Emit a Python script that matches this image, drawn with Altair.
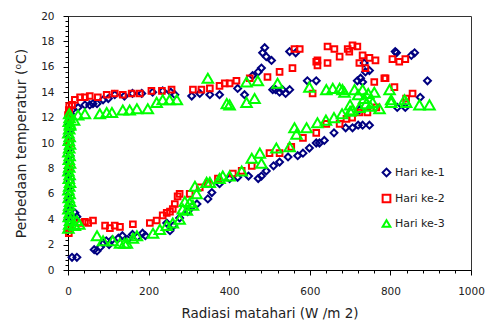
import altair as alt
import pandas as pd

series_names = ["Hari ke-1", "Hari ke-2", "Hari ke-3"]
series_colors = ["#000080", "#FF0000", "#00FF00"]
series_shapes = ["diamond", "square", "triangle-up"]

# Hari ke-1 (navy diamonds)
x1 = [2, 4, 3, 5, 2, 4, 3, 5, 2, 4, 3, 5, 2, 4, 3, 5, 2, 4, 6,
      17, 22, 10, 22,
      65, 72, 80, 88, 95, 102, 110, 125, 135, 148, 160, 172, 185, 192,
      245, 253, 262, 277, 297, 308, 320, 347, 357, 376, 401, 421, 448, 472, 480,
      492, 510, 525, 546, 570, 583, 599, 616, 624, 636, 660, 689, 706, 720, 731, 748,
      10, 25, 42, 54, 62, 72, 87, 100, 116, 140, 160, 183, 210, 235, 255, 265,
      307, 327, 352, 376, 421, 438, 458, 472, 480, 483, 488, 492, 505, 508, 515,
      525, 532, 540, 550, 550, 565, 594, 616, 718, 726, 731, 738, 748, 735, 723,
      812, 815, 852, 860, 817, 837, 874, 892]
y1 = [3.8, 4.2, 4.6, 5.0, 5.5, 6.0, 6.5, 7.0, 7.5, 8.0, 8.5, 9.0, 9.5, 10.0, 10.5, 11.0, 11.5, 12.0, 12.3,
      4.5, 4.2, 1.0, 1.0,
      1.6, 1.5, 1.8, 2.1, 2.3, 2.0, 2.4, 2.5, 2.7, 2.4, 2.8, 2.6, 2.9, 2.7,
      3.7, 3.1, 3.5, 4.1, 4.6, 5.0, 5.2, 5.6, 6.1, 6.8, 7.2, 7.3, 7.4, 7.2, 7.4,
      7.8, 8.2, 8.5, 8.9, 9.0, 9.2, 9.6, 10.0, 10.0, 10.2, 10.8, 11.2, 11.2, 11.4, 11.4, 11.4,
      12.6, 12.8, 13.0, 13.0, 13.1, 13.1, 13.4, 13.5, 13.8, 13.7, 13.9, 13.9, 14.0, 14.1, 14.0, 13.8,
      13.7, 13.9, 13.8, 13.8, 14.3, 13.8, 15.3, 15.6, 15.9, 17.1, 17.5, 16.8, 16.5, 14.2, 14.2,
      14.0, 14.2, 13.9, 14.2, 17.2, 17.1, 14.9, 14.9, 14.9, 15.1, 14.8, 15.6, 15.7, 16.3, 12.6,
      17.2, 17.1, 16.9, 17.1, 12.8, 12.8, 13.6, 14.9]

# Hari ke-2 (red squares)
x2 = [2, 3, 2, 3, 2, 3, 2, 3,
      30, 42, 50, 62, 92, 104, 116, 129, 161, 203, 220, 235, 245, 253, 260, 265, 272, 277,
      302, 327, 347, 372, 409, 431, 456, 500, 525, 554, 583, 616, 641, 674, 691, 705, 723,
      743, 765, 760, 785, 810, 839, 855,
      0, 10, 17, 30, 42, 54, 74, 96, 116, 136, 158, 178, 207, 233, 257, 310, 331, 352,
      376, 389, 401, 418, 451, 495, 525, 557, 562, 575, 607, 616, 619, 619, 644, 644,
      661, 674, 694, 698, 706, 718, 723, 731, 738, 748, 763, 805, 822, 837, 788]
y2 = [2.9, 3.2, 8.0, 10.0, 12.0, 12.3, 12.6, 12.9,
      3.7, 3.8, 3.7, 3.9, 3.5, 3.3, 3.5, 3.4, 3.6, 3.7, 3.9, 4.3, 4.5, 4.6, 4.8, 5.2, 5.8, 6.0,
      6.0, 6.5, 6.8, 7.2, 7.6, 7.8, 8.2, 9.2, 9.2, 9.7, 10.4, 10.8, 11.5, 11.5, 11.9, 12.0, 12.4,
      12.4, 12.8, 14.8, 15.1, 14.4, 13.5, 13.9,
      12.2, 13.0, 13.4, 13.6, 13.6, 13.7, 13.6, 13.8, 13.9, 13.8, 13.9, 13.9, 14.1, 14.1, 14.2, 14.2, 14.2, 14.3,
      14.5, 14.7, 14.7, 14.9, 15.1, 15.2, 15.6, 15.9, 17.4, 17.4, 13.9, 16.4, 16.1, 16.5, 16.3, 17.6,
      17.4, 16.8, 17.4, 17.2, 17.7, 17.6, 16.3, 16.9, 15.9, 16.7, 16.5, 16.6, 16.4, 16.6, 15.1]

# Hari ke-3 (green triangles)
x3 = [1, 3, 5, 2, 4, 1, 3, 5, 2, 4, 1, 3, 5, 2, 4, 1, 3, 5, 2, 4, 1, 3, 5, 2, 4, 1, 3, 5, 2, 4, 3,
      17, 22, 28, 72, 87, 111, 129, 140, 146, 161, 171, 211, 228, 245, 260, 277, 285, 290, 295,
      302, 310, 315, 319, 344, 352, 376, 384, 401, 431, 456, 476, 480, 517, 550, 562, 567, 592,
      619, 640, 660, 680, 700, 706, 723, 740, 756, 773, 802, 835, 839, 872, 897,
      5, 15, 25, 42, 79, 96, 109, 136, 153, 171, 198, 220, 235, 252, 270, 347, 394, 401,
      443, 443, 463, 471, 520, 599, 641, 657, 674, 681, 686, 700, 711, 720, 731, 735, 745,
      750, 760, 798, 802]
y3 = [3.3, 3.6, 3.9, 4.2, 4.5, 4.8, 5.1, 5.4, 5.7, 6.0, 6.3, 6.6, 6.9, 7.2, 7.5, 7.8, 8.1, 8.4, 8.7,
      9.0, 9.3, 9.6, 9.9, 10.2, 10.5, 10.8, 11.1, 11.4, 11.7, 12.0, 12.3,
      3.5, 3.9, 3.6, 2.7, 2.3, 2.3, 2.1, 2.1, 2.1, 2.5, 2.7, 2.9, 3.2, 3.5, 3.7, 4.0, 4.8, 5.4, 4.7,
      5.3, 5.1, 6.6, 6.0, 6.9, 6.9, 7.2, 7.4, 7.4, 7.8, 8.8, 9.2, 8.4, 9.6, 9.7, 11.2, 10.7, 11.2,
      11.6, 11.8, 12.0, 12.3, 12.5, 12.6, 12.8, 13.1, 13.2, 12.7, 13.4, 13.4, 13.2, 13.0, 13.0,
      11.5, 11.8, 12.2, 12.3, 12.3, 12.4, 12.4, 12.6, 12.6, 12.7, 12.7, 13.2, 13.4, 13.4, 13.4, 15.1, 13.1, 13.0,
      14.8, 13.2, 13.5, 14.9, 14.7, 14.4, 14.2, 14.3, 14.3, 14.2, 14.0, 13.0, 14.2, 13.8, 14.2, 13.5, 13.9,
      12.9, 14.0, 14.2, 13.2]

marker_sizes = [48, 32, 110]

rows = []
for name, xs, ys in zip(series_names, [x1, x2, x3], [y1, y2, y3]):
    for a, b in zip(xs, ys):
        rows.append({"rad": a, "dT": b, "series": name})
df = pd.DataFrame(rows)

x_tick_values = list(range(0, 1001, 40))
y_tick_values = [round(k * 0.4, 1) for k in range(51)]

FONT = "DejaVu Sans"
TXT = "#222222"

x_major = "datum.value % 200 === 0"
y_major = "abs(datum.value / 2 - round(datum.value / 2)) < 0.001"

x_enc = alt.X("rad:Q",
              scale=alt.Scale(domain=[0, 1000], nice=False, zero=False),
              axis=alt.Axis(title="Radiasi matahari (W /m 2)", values=x_tick_values,
                            labelExpr=f"{x_major} ? toString(round(datum.value)) : ''",
                            tickSize={"condition": {"test": x_major, "value": 5}, "value": 3},
                            labelOverlap=False, labelFlush=False, grid=False,
                            labelFont=FONT, labelFontSize=10.5, labelColor=TXT, labelPadding=11,
                            titleFont=FONT, titleFontSize=13.5, titleFontWeight="normal",
                            titleColor=TXT, titlePadding=10,
                            domainColor="#000000", tickColor="#000000"))
y_enc = alt.Y("dT:Q",
              scale=alt.Scale(domain=[0, 20], nice=False),
              axis=alt.Axis(title="Perbedaan temperatur (\u2070C)", values=y_tick_values,
                            labelExpr=f"{y_major} ? toString(round(datum.value)) : ''",
                            tickSize={"condition": {"test": y_major, "value": 5}, "value": 3},
                            labelOverlap=False, labelFlush=False, grid=False,
                            labelFont=FONT, labelFontSize=10.5, labelColor=TXT, labelPadding=9,
                            titleFont=FONT, titleFontSize=14, titleFontWeight="normal",
                            titleColor=TXT, titlePadding=12,
                            domainColor="#000000", tickColor="#000000"))
color_enc = alt.Color("series:N",
                      scale=alt.Scale(domain=series_names, range=series_colors),
                      legend=alt.Legend(title=None, orient="none", legendX=313, legendY=151,
                                        labelFont=FONT, labelFontSize=11, labelColor=TXT,
                                        symbolStrokeWidth=2, symbolSize=60,
                                        rowPadding=9, labelOffset=3))
shape_enc = alt.Shape("series:N", scale=alt.Scale(domain=series_names, range=series_shapes))

layers = []
for name, s in zip(series_names, marker_sizes):
    layers.append(
        alt.Chart(df).transform_filter(alt.datum.series == name)
        .mark_point(filled=False, strokeWidth=2, opacity=1, size=s)
        .encode(x=x_enc, y=y_enc, color=color_enc, shape=shape_enc)
    )

chart = alt.layer(*layers).properties(
    width=403, height=254,
    autosize=alt.AutoSizeParams(type="none"),
    padding={"left": 68, "top": 16, "right": 15, "bottom": 50},
).configure_view(stroke="#333333", strokeWidth=1)

chart.save("out.html", embed_options={"renderer": "svg", "actions": False})
